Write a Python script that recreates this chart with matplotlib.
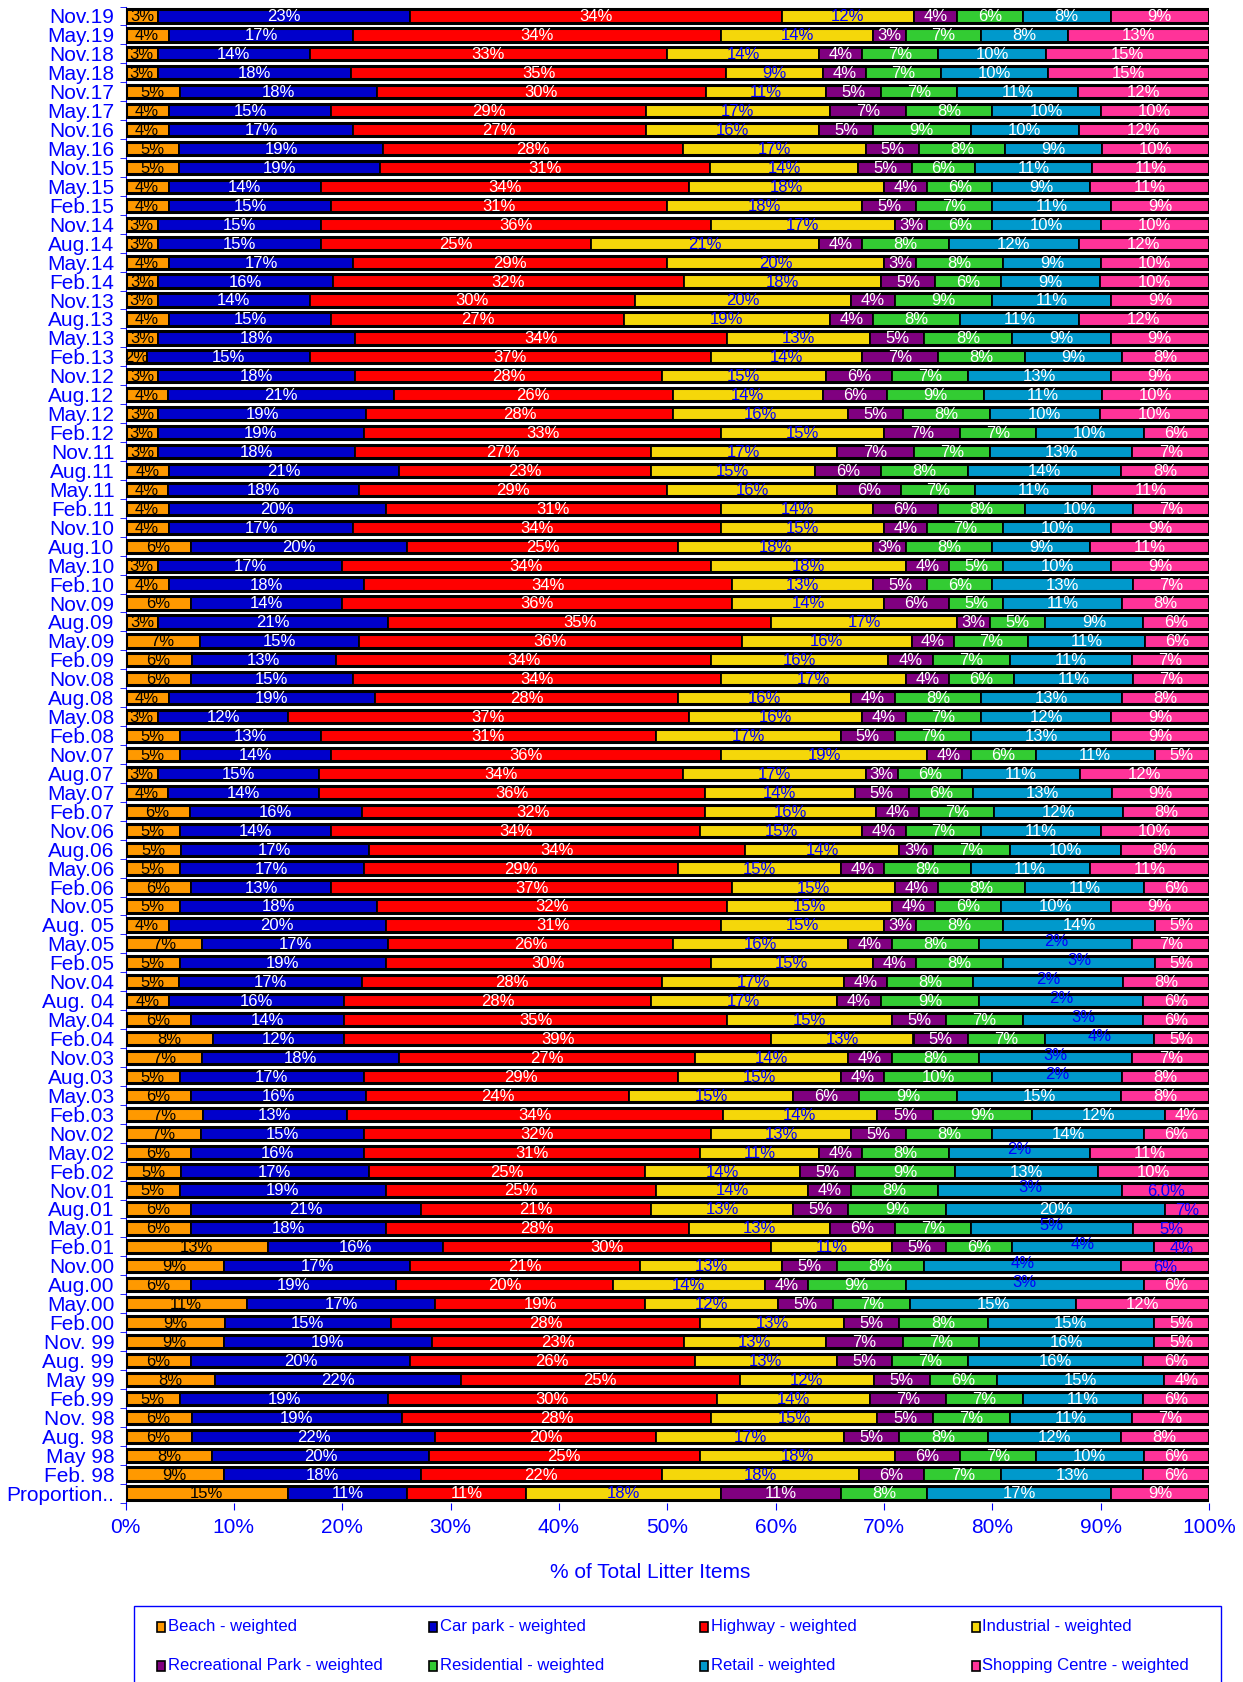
import numpy as np
import matplotlib
matplotlib.use("Agg")
import matplotlib.pyplot as plt
from matplotlib.patches import Rectangle
from matplotlib.transforms import offset_copy

plt.rcParams['font.family'] = ['Liberation Sans', 'DejaVu Sans']

BLUE = '#0000FF'

# survey periods, top row first
periods = [
    "Nov.19", "May.19", "Nov.18", "May.18", "Nov.17", "May.17", "Nov.16", "May.16",
    "Nov.15", "May.15", "Feb.15", "Nov.14", "Aug.14", "May.14", "Feb.14", "Nov.13",
    "Aug.13", "May.13", "Feb.13", "Nov.12", "Aug.12", "May.12", "Feb.12", "Nov.11",
    "Aug.11", "May.11", "Feb.11", "Nov.10", "Aug.10", "May.10", "Feb.10", "Nov.09",
    "Aug.09", "May.09", "Feb.09", "Nov.08", "Aug.08", "May.08", "Feb.08", "Nov.07",
    "Aug.07", "May.07", "Feb.07", "Nov.06", "Aug.06", "May.06", "Feb.06", "Nov.05",
    "Aug. 05", "May.05", "Feb.05", "Nov.04", "Aug. 04", "May.04", "Feb.04", "Nov.03",
    "Aug.03", "May.03", "Feb.03", "Nov.02", "May.02", "Feb.02", "Nov.01", "Aug.01",
    "May.01", "Feb.01", "Nov.00", "Aug.00", "May.00", "Feb.00", "Nov. 99", "Aug. 99",
    "May 99", "Feb.99", "Nov. 98", "Aug. 98", "May 98", "Feb. 98", "Proportion..",
]

beach = [3, 4, 3, 3, 5, 4, 4, 5, 5, 4, 4, 3, 3, 4, 3, 3,
         4, 3, 2, 3, 4, 3, 3, 3, 4, 4, 4, 4, 6, 3, 4, 6,
         3, 7, 6, 6, 4, 3, 5, 5, 3, 4, 6, 5, 5, 5, 6, 5,
         4, 7, 5, 5, 4, 6, 8, 7, 5, 6, 7, 7, 6, 5, 5, 6,
         6, 13, 9, 6, 11, 9, 9, 6, 8, 5, 6, 6, 8, 9, 15]
car_park = [23, 17, 14, 18, 18, 15, 17, 19, 19, 14, 15, 15, 15, 17, 16, 14,
            15, 18, 15, 18, 21, 19, 19, 18, 21, 18, 20, 17, 20, 17, 18, 14,
            21, 15, 13, 15, 19, 12, 13, 14, 15, 14, 16, 14, 17, 17, 13, 18,
            20, 17, 19, 17, 16, 14, 12, 18, 17, 16, 13, 15, 16, 17, 19, 21,
            18, 16, 17, 19, 17, 15, 19, 20, 22, 19, 19, 22, 20, 18, 11]
highway = [34, 34, 33, 35, 30, 29, 27, 28, 31, 34, 31, 36, 25, 29, 32, 30,
           27, 34, 37, 28, 26, 28, 33, 27, 23, 29, 31, 34, 25, 34, 34, 36,
           35, 36, 34, 34, 28, 37, 31, 36, 34, 36, 32, 34, 34, 29, 37, 32,
           31, 26, 30, 28, 28, 35, 39, 27, 29, 24, 34, 32, 31, 25, 25, 21,
           28, 30, 21, 20, 19, 28, 23, 26, 25, 30, 28, 20, 25, 22, 11]
industrial = [12, 14, 14, 9, 11, 17, 16, 17, 14, 18, 18, 17, 21, 20, 18, 20,
              19, 13, 14, 15, 14, 16, 15, 17, 15, 16, 14, 15, 18, 18, 13, 14,
              17, 16, 16, 17, 16, 16, 17, 19, 17, 14, 16, 15, 14, 15, 15, 15,
              15, 16, 15, 17, 17, 15, 13, 14, 15, 15, 14, 13, 11, 14, 14, 13,
              13, 11, 13, 14, 12, 13, 13, 13, 12, 14, 15, 17, 18, 18, 18]
rec_park = [4, 3, 4, 4, 5, 7, 5, 5, 5, 4, 5, 3, 4, 3, 5, 4,
            4, 5, 7, 6, 6, 5, 7, 7, 6, 6, 6, 4, 3, 4, 5, 6,
            3, 4, 4, 4, 4, 4, 5, 4, 3, 5, 4, 4, 3, 4, 4, 4,
            3, 4, 4, 4, 4, 5, 5, 4, 4, 6, 5, 5, 4, 5, 4, 5,
            6, 5, 5, 4, 5, 5, 7, 5, 5, 7, 5, 5, 6, 6, 11]
residential = [6, 7, 7, 7, 7, 8, 9, 8, 6, 6, 7, 6, 8, 8, 6, 9,
               8, 8, 8, 7, 9, 8, 7, 7, 8, 7, 8, 7, 8, 5, 6, 5,
               5, 7, 7, 6, 8, 7, 7, 6, 6, 6, 7, 7, 7, 8, 8, 6,
               8, 8, 8, 8, 9, 7, 7, 8, 10, 9, 9, 8, 8, 9, 8, 9,
               7, 6, 8, 9, 7, 8, 7, 7, 6, 7, 7, 8, 7, 7, 8]
retail = [8, 8, 10, 10, 11, 10, 10, 9, 11, 9, 11, 10, 12, 9, 9, 11,
          11, 9, 9, 13, 11, 10, 10, 13, 14, 11, 10, 10, 9, 10, 13, 11,
          9, 11, 11, 11, 13, 12, 13, 11, 11, 13, 12, 11, 10, 11, 11, 10,
          14, 14, 14, 14, 15, 11, 10, 14, 12, 15, 12, 14, 13, 13, 17, 20,
          15, 13, 18, 22, 15, 15, 16, 16, 15, 11, 11, 12, 10, 13, 17]
shopping = [9, 13, 15, 15, 12, 10, 12, 10, 11, 11, 9, 10, 12, 10, 10, 9,
            12, 9, 8, 9, 10, 10, 6, 7, 8, 11, 7, 9, 11, 9, 7, 8,
            6, 6, 7, 7, 8, 9, 9, 5, 12, 9, 8, 10, 8, 11, 6, 9,
            5, 7, 5, 8, 6, 6, 5, 7, 8, 8, 4, 6, 11, 10, 8, 4,
            7, 5, 8, 6, 12, 5, 5, 6, 4, 6, 7, 8, 6, 6, 9]

# data labels that carry a different text from the segment value
retail_text = {
    "May.05": "2%", "Feb.05": "3%", "Nov.04": "2%", "Aug. 04": "2%",
    "May.04": "3%", "Feb.04": "4%", "Nov.03": "3%", "Aug.03": "2%",
    "May.02": "2%", "Nov.01": "3%", "May.01": "5%", "Feb.01": "4%",
    "Nov.00": "4%", "Aug.00": "3%",
}
shopping_text = {
    "Nov.01": "6.0%", "Aug.01": "7%", "May.01": "5%", "Feb.01": "4%",
    "Nov.00": "6%",
}

series = [
    ("Beach - weighted", beach, '#FF9900', 'black'),
    ("Car park - weighted", car_park, '#0000CC', 'white'),
    ("Highway - weighted", highway, '#FF0000', 'white'),
    ("Industrial - weighted", industrial, '#F5D70A', BLUE),
    ("Recreational Park - weighted", rec_park, '#800080', 'white'),
    ("Residential - weighted", residential, '#33CC33', 'white'),
    ("Retail - weighted", retail, '#0099CC', 'white'),
    ("Shopping Centre - weighted", shopping, '#FF3399', 'white'),
]
odd_text = {6: retail_text, 7: shopping_text}

W, H = 1243, 1682
fig = plt.figure(figsize=(W / 100, H / 100), dpi=100)
ax = fig.add_axes([125.5 / W, 1 - 1502.5 / H, (1209 - 125.5) / W, (1502.5 - 6.5) / H])

y = np.arange(len(periods))
vals = np.array([s[1] for s in series], dtype=float)
share = vals / vals.sum(axis=0) * 100
lefts = np.vstack([np.zeros(len(periods)), np.cumsum(share, axis=0)[:-1]])
bar_h = 0.7

# drop shadow and outer frame of each stacked bar
shadow = offset_copy(ax.transData, fig=fig, x=2, y=-2, units='dots')
ax.barh(y, 100, height=bar_h, color='#BDBDBD', lw=0, transform=shadow, zorder=1)

for k, (name, _, color, tcolor) in enumerate(series):
    ax.barh(y, share[k], left=lefts[k], height=bar_h, color=color,
            edgecolor='black', linewidth=1.3, label=name, zorder=2)
    for i, p in enumerate(periods):
        txt = f"{int(vals[k, i])}%"
        c = tcolor
        dy = 0.05
        if k in odd_text and p in odd_text[k]:
            txt = odd_text[k][p]
            c = BLUE
            dy = -0.12 if k == 6 else 0.08
        ax.text(lefts[k, i] + share[k, i] / 2, y[i] + dy, txt, color=c,
                fontsize=12, ha='center', va='center', zorder=4)

ax.barh(y, 100, height=bar_h, fill=False, edgecolor='black', linewidth=2.2, zorder=3)

ax.set_xlim(0, 100)
ax.set_ylim(len(periods) - 0.5, -0.5)
ax.set_yticks(y)
ax.set_yticklabels(periods, fontsize=15, color=BLUE)
ax.set_yticks(np.arange(len(periods) + 1) - 0.5, minor=True)
ax.tick_params(axis='y', which='major', length=0, pad=8)
ax.tick_params(axis='y', which='minor', length=4, color=BLUE, direction='out')
ax.set_xticks(np.arange(0, 101, 10))
ax.set_xticklabels([f"{v}%" for v in range(0, 101, 10)], fontsize=15, color=BLUE)
ax.tick_params(axis='x', length=5, color=BLUE, pad=6)

for side in ('top', 'right', 'bottom'):
    ax.spines[side].set_visible(False)
ax.spines['left'].set_color(BLUE)

ax.set_xlabel("% of Total Litter Items", fontsize=15, color=BLUE, va='center')
ax.xaxis.set_label_coords((650 - 125.5) / 1083.5, (1502.5 - 1572) / 1496)

# legend box along the bottom edge
fig.add_artist(Rectangle((134 / W, -0.01), (1221 - 134) / W, (H - 1606) / H + 0.01,
                         transform=fig.transFigure, fill=False, edgecolor=BLUE, lw=1))
for k, (name, _, color, _) in enumerate(series):
    col, row = k % 4, k // 4
    x0 = 157 + 271.5 * col
    yc = 1627 + 38.5 * row
    fig.add_artist(Rectangle((x0 / W, 1 - (yc + 5) / H), 8 / W, 10 / H,
                             transform=fig.transFigure, facecolor=color,
                             edgecolor='black', lw=1.2))
    fig.text((x0 + 11) / W, 1 - yc / H, name, fontsize=12, color=BLUE,
             ha='left', va='center')

fig.savefig("out.png", dpi=100)
